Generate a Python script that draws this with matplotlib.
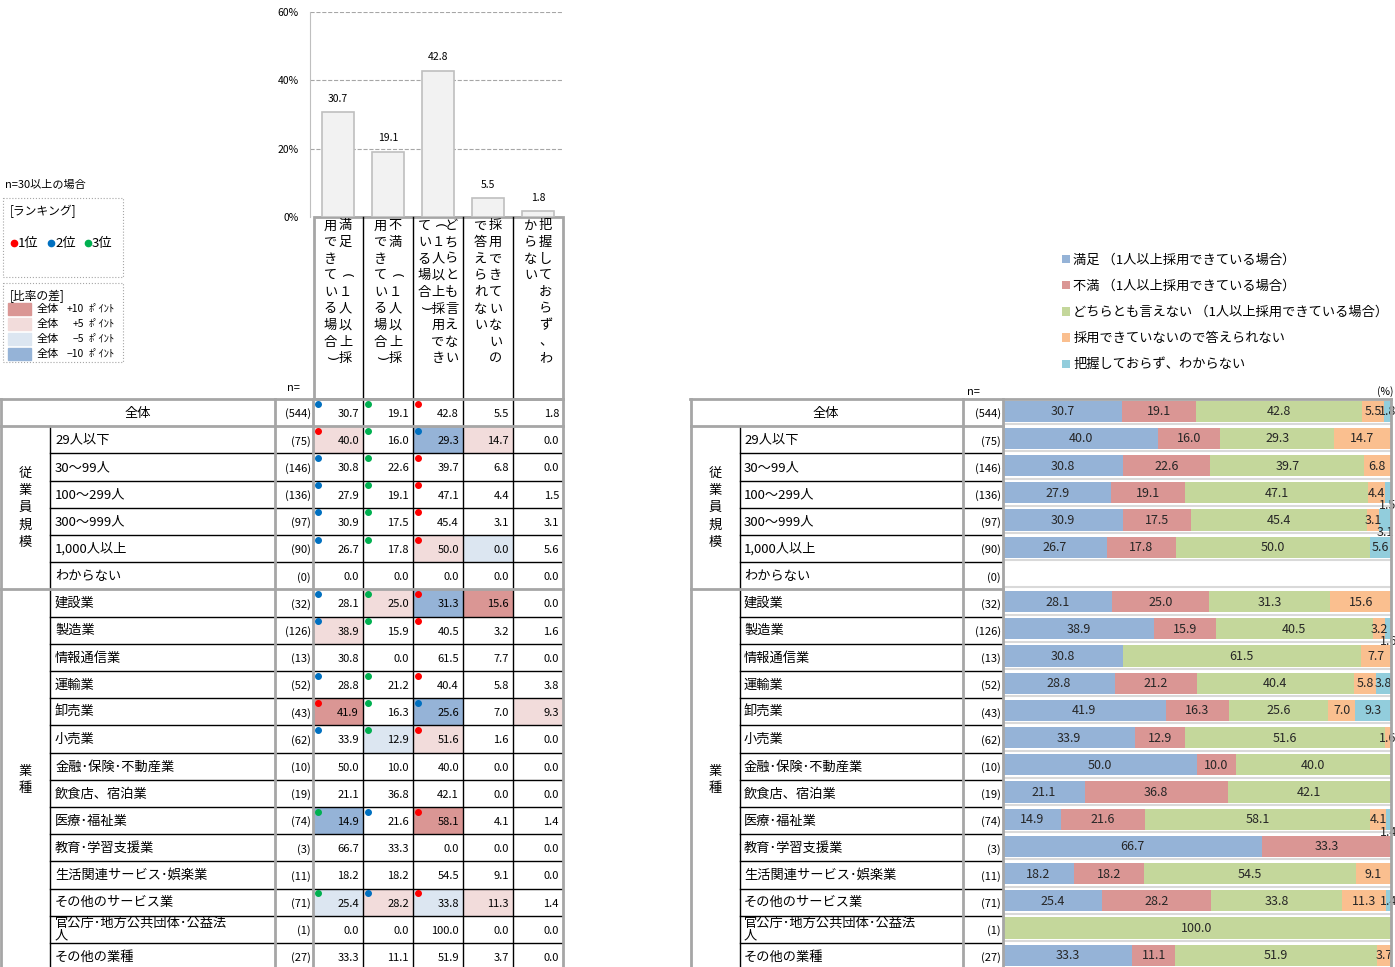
import matplotlib
matplotlib.use('Agg')
import matplotlib.pyplot as plt
from matplotlib.patches import Rectangle
import numpy as np

plt.rcParams['font.family'] = ['Noto Sans CJK JP', 'DejaVu Sans']
NUMF = ['Liberation Sans Narrow', 'Noto Sans CJK JP', 'DejaVu Sans']

# ---- data
header_labels = ['満足　（１人以上採用できている場合）',
                 '不満　（１人以上採用できている場合）',
                 'どちらとも言えない（１人以上採用できている場合）',
                 '採用できていないので答えられない',
                 '把握しておらず、わからない']
legend_labels = ['満足 （1人以上採用できている場合）',
                 '不満 （1人以上採用できている場合）',
                 'どちらとも言えない （1人以上採用できている場合）',
                 '採用できていないので答えられない',
                 '把握しておらず、わからない']
row_labels = ['全体', '29人以下', '30～99人', '100～299人', '300～999人', '1,000人以上',
              'わからない', '建設業', '製造業', '情報通信業', '運輸業', '卸売業', '小売業',
              '金融･保険･不動産業', '飲食店、宿泊業', '医療･福祉業', '教育･学習支援業',
              '生活関連サービス･娯楽業', 'その他のサービス業', '官公庁･地方公共団体･公益法\n人',
              'その他の業種']
n_values = [544, 75, 146, 136, 97, 90, 0, 32, 126, 13, 52, 43, 62, 10, 19, 74, 3, 11, 71, 1, 27]
satisfied = [30.7, 40.0, 30.8, 27.9, 30.9, 26.7, 0.0, 28.1, 38.9, 30.8, 28.8, 41.9, 33.9,
             50.0, 21.1, 14.9, 66.7, 18.2, 25.4, 0.0, 33.3]
dissatisfied = [19.1, 16.0, 22.6, 19.1, 17.5, 17.8, 0.0, 25.0, 15.9, 0.0, 21.2, 16.3, 12.9,
                10.0, 36.8, 21.6, 33.3, 18.2, 28.2, 0.0, 11.1]
neither = [42.8, 29.3, 39.7, 47.1, 45.4, 50.0, 0.0, 31.3, 40.5, 61.5, 40.4, 25.6, 51.6,
           40.0, 42.1, 58.1, 0.0, 54.5, 33.8, 100.0, 51.9]
cannot = [5.5, 14.7, 6.8, 4.4, 3.1, 0.0, 0.0, 15.6, 3.2, 7.7, 5.8, 7.0, 1.6,
          0.0, 0.0, 4.1, 0.0, 9.1, 11.3, 0.0, 3.7]
unknown = [1.8, 0.0, 0.0, 1.5, 3.1, 5.6, 0.0, 0.0, 1.6, 0.0, 3.8, 9.3, 0.0,
           0.0, 0.0, 1.4, 0.0, 0.0, 1.4, 0.0, 0.0]
groups = [('従業員規模', 1, 7), ('業種', 7, 21)]

series = [satisfied, dissatisfied, neither, cannot, unknown]
vals = np.array(series).T  # rows x 5
overall = vals[0]

seg_colors = ['#95b3d7', '#da9694', '#c4d79b', '#fabf8f', '#92cddc']
diff_colors = ['#da9694', '#f2dcdb', '#dce6f1', '#95b3d7']
rank_colors = ['#ff0000', '#0070c0', '#00b050']
GREY = '#a6a6a6'

W, H = 1395, 967
fig = plt.figure(figsize=(13.95, 9.67), dpi=100)


def px_axes(x0, y0, x1, y1):
    ax = fig.add_axes([x0 / W, 1 - y1 / H, (x1 - x0) / W, (y1 - y0) / H])
    ax.axis('off')
    return ax


lay = px_axes(0, 0, W, H)
lay.set_xlim(0, W)
lay.set_ylim(H, 0)

TOP = 399
RH = 27.2
NVIS = (H - TOP) / RH
nrows = len(row_labels)
rows = np.arange(nrows)

# ---- top bar chart (全体)
ax = fig.add_axes([310 / W, 1 - 217 / H, 253 / W, 205 / H])
ax.bar(np.arange(5), overall, width=0.64, color='#f2f2f2', edgecolor='#bfbfbf', lw=1.2, zorder=3)
for k, v in enumerate(overall):
    ax.annotate(f'{v:.1f}', (k, v), xytext=(0, 6), textcoords='offset points',
                ha='center', va='bottom', fontsize=7.5, family=NUMF)
ax.set_xlim(-0.56, 4.5)
ax.set_ylim(0, 60)
ax.set_yticks([0, 20, 40, 60])
ax.set_yticklabels(['0%', '20%', '40%', '60%'], fontsize=7.5, family=NUMF)
ax.set_xticks([])
ax.tick_params(length=0, pad=8)
ax.yaxis.grid(True, ls='--', color=GREY, lw=0.8)
for s in ['top', 'right', 'bottom']:
    ax.spines[s].set_visible(False)
ax.spines['left'].set_color('#bfbfbf')
ax.set_facecolor('none')

# ---- header box with vertical labels
lay.add_patch(Rectangle((314, 217), 249, 182, fill=False, ec=GREY, lw=2))
for j in range(1, 5):
    lay.plot([313 + 50 * j] * 2, [217, 399], color='black', lw=1)
for j, lab in enumerate(header_labels):
    chunks = [lab[k:k + 9] for k in range(0, len(lab), 9)]
    step = 15 if len(chunks) == 2 else 13.5
    cx = 338 + 50 * j
    for c, chunk in enumerate(chunks):
        x = cx + (len(chunks) - 1) / 2 * step - c * step
        for m, ch in enumerate(chunk):
            if ch in '（）':
                lay.text(x, 226 + m * 16.6, '(' if ch == '（' else ')', ha='center',
                         va='center', fontsize=9.5, rotation=-90, family='DejaVu Sans')
            else:
                lay.text(x, 226 + m * 16.6, ch, ha='center', va='center', fontsize=9.5)
lay.text(293, 388, 'n=', ha='center', va='center', fontsize=8)

# ---- left legend
lay.text(5, 185, 'n=30以上の場合', va='center', fontsize=8)
lay.add_patch(Rectangle((3, 198), 120, 79, fill=False, ec=GREY, lw=0.8, ls=':'))
lay.add_patch(Rectangle((3, 283), 120, 79, fill=False, ec=GREY, lw=0.8, ls=':'))
lay.text(10, 211, '[ランキング]', va='center', fontsize=8.5)
for k, lab in enumerate(['1位', '2位', '3位']):
    lay.plot(14 + 37 * k, 243, 'o', color=rank_colors[k], ms=4.5)
    lay.text(18 + 37 * k, 244, lab, va='center', fontsize=9.5)
lay.text(10, 296, '[比率の差]', va='center', fontsize=8.5)
for k, (col, d) in enumerate(zip(diff_colors, ['+10', '+5', '−5', '−10'])):
    y = 309 + 15 * k
    lay.add_patch(Rectangle((8, y - 6), 23, 12, color=col))
    lay.text(37, y, '全体', va='center', fontsize=8)
    lay.text(84, y, d, va='center', ha='right', fontsize=7.5, family=NUMF)
    lay.text(89, y, 'ﾎﾟｲﾝﾄ', va='center', fontsize=7.5)

# ---- left table
tl = px_axes(0, TOP, 563, H)
tl.set_xlim(0, 563)
tl.set_ylim(NVIS, 0)
for j in range(5):
    diffs = vals[:, j] - overall[j]
    cols = []
    for i in range(nrows):
        if n_values[i] < 30 or i == 0:
            cols.append('none')
        elif diffs[i] >= 10:
            cols.append(diff_colors[0])
        elif diffs[i] >= 5:
            cols.append(diff_colors[1])
        elif diffs[i] <= -10:
            cols.append(diff_colors[3])
        elif diffs[i] <= -5:
            cols.append(diff_colors[2])
        else:
            cols.append('none')
    tl.barh(rows + 0.5, 50, left=313 + 50 * j, height=1, color=cols, zorder=0)
    for i in range(nrows):
        tl.text(313 + 50 * j + 46, i + 0.55, f'{vals[i, j]:.1f}', ha='right', va='center',
                fontsize=8, family=NUMF, clip_on=False)
for i in range(nrows):
    if n_values[i] >= 30:
        order = np.argsort(-vals[i], kind='stable')[:3]
        for r, j in enumerate(order):
            tl.plot(313 + 50 * j + 5, i + 0.17, 'o', color=rank_colors[r], ms=4, zorder=5,
                    clip_on=False)
    if i > 0:
        tl.text(55, i + 0.52, row_labels[i], va='center', fontsize=9.5, linespacing=0.95)
    tl.text(311, i + 0.55, f'({n_values[i]})', ha='right', va='center', fontsize=8,
            family=NUMF)
tl.text(138, 0.52, row_labels[0], ha='center', va='center', fontsize=9.5)
for name, a, b in groups:
    mid = (a + b) / 2
    for m, ch in enumerate(name):
        tl.text(25, mid + (m - (len(name) - 1) / 2) * 0.63, ch, ha='center', va='center',
                fontsize=9.5)
for i in range(2, nrows):
    if i != 7:
        tl.plot([50, 563], [i, i], color='black', lw=1, zorder=4)
for j in range(1, 5):
    tl.plot([313 + 50 * j] * 2, [0, NVIS], color='black', lw=1, zorder=4)
tl.plot([50, 50], [1, NVIS], color='black', lw=1, zorder=4)
for y in [0, 1, 7]:
    tl.plot([0, 563], [y, y], color=GREY, lw=2, zorder=6, clip_on=False)
for x in [1, 275, 313, 563]:
    tl.plot([x, x], [0, NVIS], color=GREY, lw=2, zorder=6, clip_on=False)

# ---- right stacked bars
tb = px_axes(1003, TOP, 1391, H)
tb.set_xlim(0, 100)
tb.set_ylim(NVIS, 0)
ok = np.array(n_values) > 0
left = np.zeros(nrows)
handles = []
for j in range(5):
    v = np.where(ok, vals[:, j], 0)
    h = tb.barh(rows + 0.45, v, left=left, height=0.78, color=seg_colors[j], zorder=2,
                label=legend_labels[j])
    handles.append(h)
    for i in range(nrows):
        if v[i] > 0:
            dy = 0
            # small last segment next to a small orange one is pushed below the bar
            if j == 4 and 0 < vals[i, 3] < 5:
                dy = 0.45
            tb.text(left[i] + v[i] / 2, i + 0.47 + dy, f'{v[i]:.1f}', ha='center', va='center',
                    fontsize=9, family=NUMF, color='#262626', zorder=5, clip_on=False)
    left = left + v
for i in range(1, nrows):
    tb.plot([0, 100], [i - 0.07, i - 0.07], color='#d9d9d9', lw=1.5, zorder=1)

tr = px_axes(690, TOP, 1391, H)
tr.set_xlim(690, 1391)
tr.set_ylim(NVIS, 0)
for i in range(nrows):
    if i > 0:
        tr.text(744, i + 0.52, row_labels[i], va='center', fontsize=9.5, linespacing=0.95)
    tr.text(1001, i + 0.55, f'({n_values[i]})', ha='right', va='center', fontsize=8,
            family=NUMF)
tr.text(826, 0.52, row_labels[0], ha='center', va='center', fontsize=9.5)
for name, a, b in groups:
    mid = (a + b) / 2
    for m, ch in enumerate(name):
        tr.text(715, mid + (m - (len(name) - 1) / 2) * 0.63, ch, ha='center', va='center',
                fontsize=9.5)
for i in range(2, nrows):
    if i != 7:
        tr.plot([740, 1003], [i, i], color='black', lw=1, zorder=4)
tr.plot([740, 740], [1, NVIS], color='black', lw=1, zorder=4)
tr.plot([690, 1391], [0, 0], color=GREY, lw=2, zorder=6, clip_on=False)
for y in [1, 7]:
    tr.plot([690, 1003], [y, y], color=GREY, lw=2, zorder=6)
for x in [691, 963, 1003, 1391]:
    tr.plot([x, x], [0, NVIS], color=GREY, lw=2, zorder=6, clip_on=False)
lay.text(973, 392, 'n=', ha='center', va='center', fontsize=8)
lay.text(1385, 392, '(%)', ha='center', va='center', fontsize=7.5, family=NUMF)

fig.legend(handles=handles, loc='upper left', bbox_to_anchor=(1055 / W, 1 - 247 / H),
           frameon=False, fontsize=9.5, handlelength=0.6, handleheight=0.6,
           handletextpad=0.3, labelspacing=1.0, borderpad=0)

fig.savefig('out.png', dpi=100)
